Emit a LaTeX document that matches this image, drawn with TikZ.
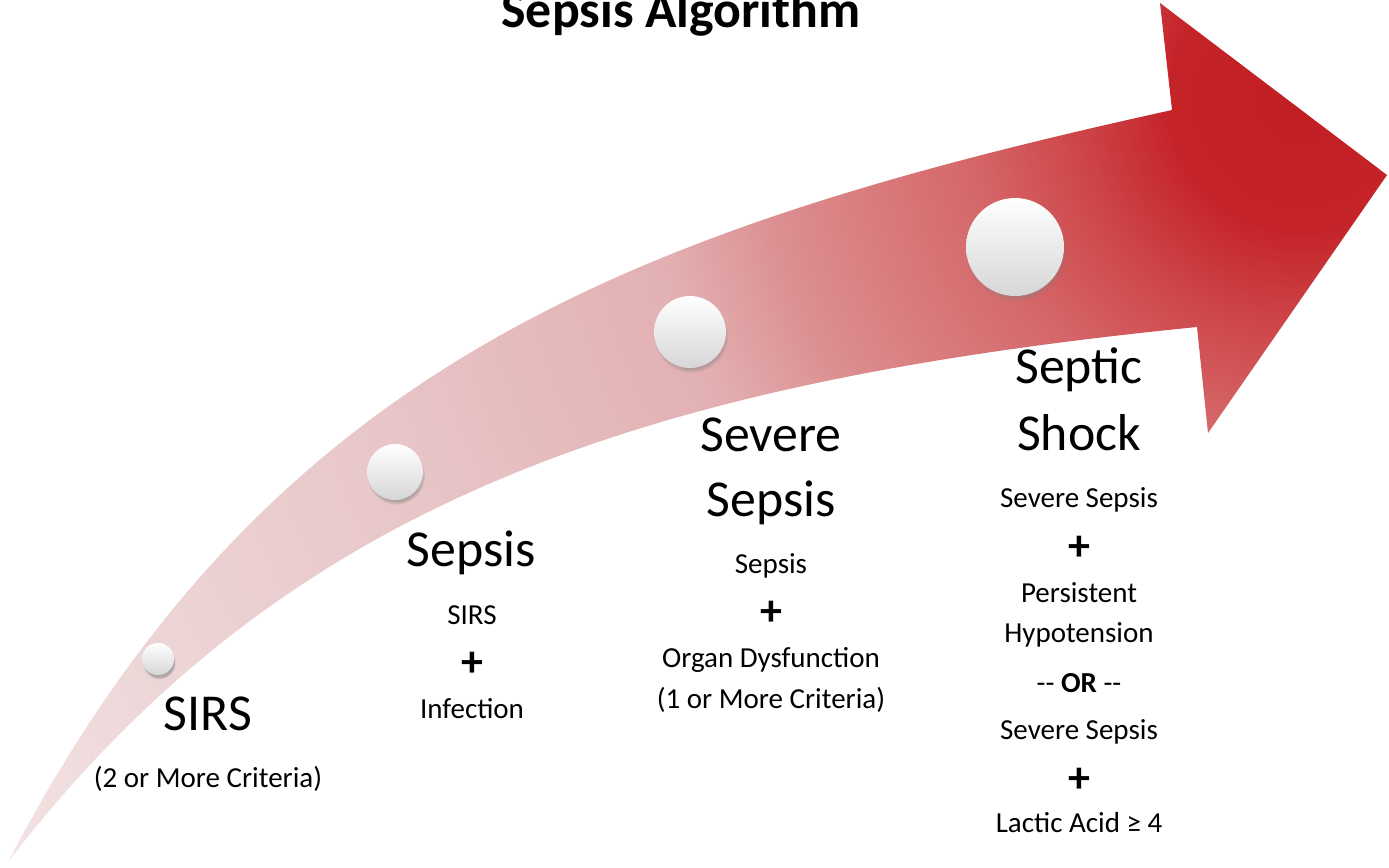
\documentclass[tikz,border=0pt]{standalone}
\usepackage{fontspec}
\setmainfont{Carlito}
\usetikzlibrary{shadows,fadings}
\definecolor{ar0}{HTML}{C21F24}
\definecolor{ar1}{HTML}{C42328}
\definecolor{ar2}{HTML}{CD4548}
\definecolor{ar3}{HTML}{D56668}
\definecolor{ar4}{HTML}{DC8F91}
\definecolor{ar5}{HTML}{E2B0B2}
\definecolor{ar6}{HTML}{E8C6C8}
\definecolor{ar7}{HTML}{EDD5D6}
\definecolor{ar8}{HTML}{F3E3E4}
\definecolor{ar9}{HTML}{F6EAEA}
\pgfdeclareradialshading{arrowglow}{\pgfpoint{0bp}{0bp}}{color(0bp)=(ar0); color(2bp)=(ar1); color(3.5bp)=(ar2); color(5.2bp)=(ar3); color(8.4bp)=(ar4); color(10.2bp)=(ar5); color(15.3bp)=(ar6); color(19.9bp)=(ar7); color(23.4bp)=(ar8); color(50bp)=(ar9)}
\tikzset{
  bigtxt/.style={anchor=base, inner sep=0pt, font=\fontsize{29.5}{35}\selectfont},
  smalltxt/.style={anchor=base, inner sep=0pt, font=\fontsize{16.5}{20}\selectfont},
  plustxt/.style={anchor=center, inner sep=0pt, font=\fontsize{25}{30}\selectfont\bfseries},
  titletxt/.style={anchor=base, inner sep=0pt, font=\fontsize{29.5}{35}\selectfont\bfseries},
  dot/.style={circle, inner sep=0pt, top color=white, middle color=white, bottom color=black!16,
    circular drop shadow={shadow xshift=0.6pt, shadow yshift=-2pt, shadow scale=1.04, opacity=0.55}}
}
\begin{document}
\begin{tikzpicture}[x=0.02cm, y=-0.02cm]
\useasboundingbox (0,0) rectangle (1389,867);
% arrow
\coordinate (tail) at (8,862);
\coordinate (unotch) at (1172,110);
\coordinate (lnotch) at (1197,327);
\begin{scope}
\clip (tail) .. controls (265,370) and (622,231) .. (unotch)
  -- (1160,3) -- (1387,175) -- (1208,433) -- (lnotch)
  .. controls (647,382) and (288,498) .. (tail) -- cycle;
\shade[shading=arrowglow] (-300,-1500) rectangle (2900,1700);
\end{scope}
% title
\node[titletxt] (title) at (681,27) {Sepsis Algorithm};
% circles
\node[dot, minimum size=0.64cm] (c1) at (158,659) {};
\node[dot, minimum size=1.12cm] (c2) at (395,472) {};
\node[dot, minimum size=1.44cm] (c3) at (690,332) {};
\node[dot, minimum size=1.96cm] (c4) at (1015,247) {};
% SIRS
\node[bigtxt] (sirs) at (208,730) {SIRS};
\node[smalltxt] (sirsc) at (208,787) {(2 or More Criteria)};
% Sepsis
\node[bigtxt] (sep) at (471,566) {Sepsis};
\node[smalltxt] (sepa) at (472,624) {SIRS};
\node[plustxt] (sepp) at (472,664) {+};
\node[smalltxt] (sepb) at (472,718) {Infection};
% Severe Sepsis
\node[bigtxt] (sev1) at (771,451) {Severe};
\node[bigtxt] (sev2) at (771,516) {Sepsis};
\node[smalltxt] (seva) at (771,573) {Sepsis};
\node[plustxt] (sevp) at (771,613) {+};
\node[smalltxt] (sevb) at (771,667) {Organ Dysfunction};
\node[smalltxt] (sevc) at (771,708) {(1 or More Criteria)};
% Septic Shock
\node[bigtxt] (sh1) at (1079,383) {Septic};
\node[bigtxt] (sh2) at (1079,450) {Shock};
\node[smalltxt] (sha) at (1079,507) {Severe Sepsis};
\node[plustxt] (shp1) at (1079,548) {+};
\node[smalltxt] (shb) at (1079,602) {Persistent};
\node[smalltxt] (shc) at (1079,642) {Hypotension};
\node[smalltxt] (shor) at (1079,692) {-{}- \textbf{OR} -{}-};
\node[smalltxt] (shd) at (1079,739) {Severe Sepsis};
\node[plustxt] (shp2) at (1079,780) {+};
\node[smalltxt] (she) at (1079,832) {Lactic Acid ≥ 4};
\end{tikzpicture}
\end{document}
